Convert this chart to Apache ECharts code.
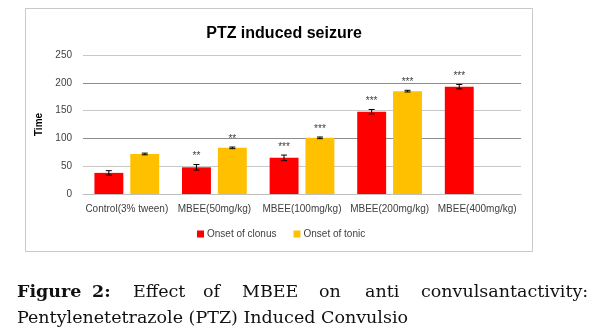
<!DOCTYPE html>
<html>
<head>
<meta charset="utf-8">
<script src="https://cdn.jsdelivr.net/npm/echarts@6/dist/echarts.min.js"></script>
<style>
html, body { margin: 0; padding: 0; background: #fff; }
#container { width: 594px; height: 336px; }
</style>
</head>
<body>
<div id="container"></div>
<script>
// data
var categories = ['Control(3% tween)', 'MBEE(50mg/kg)', 'MBEE(100mg/kg)', 'MBEE(200mg/kg)', 'MBEE(400mg/kg)'];
var clonus = [38, 48, 65, 148, 193];          // Onset of clonus
var clonusErr = [4, 5, 5, 4, 4];
var clonusSig = ['', '**', '***', '***', '***'];
var tonic = [72, 83, 101, 185, null];         // Onset of tonic
var tonicErr = [1.5, 1.5, 1.5, 1.5, 0];
var tonicSig = ['', '**', '***', '***', ''];
var yTicks = [0, 50, 100, 150, 200, 250];

var captionLine1 = ['Figure', '2:', 'Effect', 'of', 'MBEE', 'on', 'anti', 'convulsantactivity:'];
var captionX1 = [17, 92, 133, 203, 242, 319, 365, 421];
var captionLine2 = 'Pentylenetetrazole (PTZ) Induced Convulsio';

var dom = document.getElementById('container');
var myChart = echarts.init(dom);

// 误差线 + 显著性标记
function errRender(vals, errs, sigs, offsetRatio) {
	return function(params, api) {
		var i = api.value(0);
		var v = vals[i];
		if (v == null) return null;
		var band = api.size([1, 0])[0];
		var dx = band * offsetRatio;
		var top = api.coord([i, v + errs[i]]);
		var bot = api.coord([i, v - errs[i]]);
		var x = top[0] + dx;
		var cap = 3;
		var children = [
			{ type: 'line', shape: { x1: x, y1: top[1], x2: x, y2: bot[1] }, style: { stroke: '#000', lineWidth: 1 } },
			{ type: 'line', shape: { x1: x - cap, y1: top[1], x2: x + cap, y2: top[1] }, style: { stroke: '#000', lineWidth: 1 } },
			{ type: 'line', shape: { x1: x - cap, y1: bot[1], x2: x + cap, y2: bot[1] }, style: { stroke: '#000', lineWidth: 1 } }
		];
		if (sigs[i]) {
			children.push({
				type: 'text',
				style: { text: sigs[i], x: x, y: top[1] - 8, align: 'center', verticalAlign: 'middle',
					fill: '#404040', font: '10px "Liberation Sans", Arial, sans-serif' }
			});
		}
		return { type: 'group', children: children };
	};
}

var idx = categories.map(function(c, i) { return [i]; });

var captionFont = '17.5px "DejaVu Serif", "Liberation Serif", serif';
var captionGraphics = [];
for (var k = 0; k < captionLine1.length; k++) {
	captionGraphics.push({
		type: 'text', left: captionX1[k], top: 283,
		style: { text: captionLine1[k], fill: '#111', font: (k < 2 ? 'bold ' : '') + captionFont }
	});
}
captionGraphics.push({
	type: 'text', left: 17, top: 309,
	style: { text: captionLine2, fill: '#111', font: captionFont }
});

var option = {
	backgroundColor: '#fff',
	animation: false,
	title: {
		text: 'PTZ induced seizure',
		left: 279, top: 21, textAlign: 'center',
		textStyle: { fontSize: 16, fontWeight: 'bold', color: '#000', fontFamily: '"Liberation Sans", Arial, sans-serif' }
	},
	legend: {
		data: ['Onset of clonus', 'Onset of tonic'],
		left: 192, top: 224,
		itemWidth: 7, itemHeight: 7, itemGap: 17,
		icon: 'rect',
		textStyle: { fontSize: 10, color: '#404040', fontFamily: '"Liberation Sans", Arial, sans-serif', padding: [0, 0, 0, -2] }
	},
	grid: { left: 83, right: 73, top: 55, bottom: 142 },
	xAxis: {
		type: 'category',
		data: categories,
		axisLine: { lineStyle: { color: '#bfbfbf' } },
		axisTick: { show: false },
		axisLabel: { color: '#404040', fontSize: 10, margin: 10, interval: 0, fontFamily: '"Liberation Sans", Arial, sans-serif' }
	},
	yAxis: {
		type: 'value',
		min: yTicks[0], max: yTicks[yTicks.length - 1], interval: 50,
		name: 'Time', nameLocation: 'middle', nameGap: 29,
		nameTextStyle: { fontSize: 10, fontWeight: 'bold', color: '#000', fontFamily: '"Liberation Sans", Arial, sans-serif' },
		axisLine: { show: false },
		axisTick: { show: false },
		axisLabel: { color: '#404040', fontSize: 10, margin: 11, fontFamily: '"Liberation Sans", Arial, sans-serif' },
		splitLine: { lineStyle: { color: ['#c8c8c8', '#c8c8c8', '#8c8c8c', '#c8c8c8', '#8c8c8c', '#c8c8c8'] } }
	},
	graphic: [
		{ type: 'rect', shape: { x: 25.5, y: 8.5, width: 507, height: 243 }, style: { fill: 'none', stroke: '#c8c8c8', lineWidth: 1 }, silent: true }
	].concat(captionGraphics),
	series: [
		{ name: 'Onset of clonus', type: 'bar', data: clonus, barWidth: '33%', barGap: '24%', itemStyle: { color: '#ff0000' } },
		{ name: 'Onset of tonic', type: 'bar', data: tonic, barWidth: '33%', barGap: '24%', itemStyle: { color: '#ffc000' } },
		{ type: 'custom', data: idx, renderItem: errRender(clonus, clonusErr, clonusSig, -0.205), z: 5, silent: true },
		{ type: 'custom', data: idx, renderItem: errRender(tonic, tonicErr, tonicSig, 0.205), z: 5, silent: true }
	]
};
myChart.setOption(option);
</script>
</body>
</html>
